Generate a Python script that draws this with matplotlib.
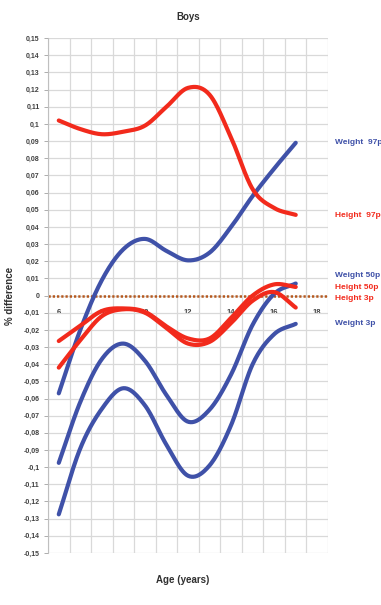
import matplotlib
matplotlib.use("Agg")
import matplotlib.pyplot as plt
import numpy as np

plt.rcParams["font.family"] = ["Liberation Sans Narrow", "Liberation Sans", "DejaVu Sans"]

ages = [6, 7, 8, 9, 10, 11, 12, 13, 14, 15, 16, 17]

weight_97 = [-0.057, -0.020, 0.009, 0.027, 0.033, 0.026, 0.0205, 0.025, 0.040, 0.058, 0.074, 0.089]
weight_50 = [-0.0975, -0.062, -0.037, -0.028, -0.038, -0.058, -0.0735, -0.0665, -0.046, -0.017, 0.001, 0.007]
weight_3 = [-0.1275, -0.089, -0.066, -0.054, -0.064, -0.087, -0.105, -0.099, -0.0755, -0.040, -0.0225, -0.0165]
height_97 = [0.102, 0.097, 0.094, 0.0955, 0.099, 0.110, 0.121, 0.117, 0.092, 0.062, 0.051, 0.047]
height_50 = [-0.0265, -0.0176, -0.009, -0.0075, -0.0095, -0.018, -0.025, -0.025, -0.013, 0.0, 0.0065, 0.005]
height_3 = [-0.042, -0.026, -0.012, -0.008, -0.010, -0.019, -0.028, -0.027, -0.016, -0.003, 0.002, -0.007]

series_names = ["Weight  97p", "Height  97p", "Weight 50p", "Height 50p", "Height 3p", "Weight 3p"]
series_data = [weight_97, height_97, weight_50, height_50, height_3, weight_3]
label_y = [0.089, 0.0465, 0.0115, 0.0045, -0.002, -0.0165]

BLUE = "#3F51A8"
RED = "#F22A1C"


def smooth(x, y, n=24):
    # Catmull-Rom, close to Excel's "smoothed line"
    x = np.asarray(x, float)
    y = np.asarray(y, float)
    px = np.concatenate([[2 * x[0] - x[1]], x, [2 * x[-1] - x[-2]]])
    py = np.concatenate([[2 * y[0] - y[1]], y, [2 * y[-1] - y[-2]]])
    xs, ys = [], []
    t = np.linspace(0, 1, n, endpoint=False)
    for i in range(1, len(px) - 2):
        for p, out in ((px, xs), (py, ys)):
            p0, p1, p2, p3 = p[i - 1], p[i], p[i + 1], p[i + 2]
            out.extend(0.5 * (2 * p1 + (-p0 + p2) * t
                              + (2 * p0 - 5 * p1 + 4 * p2 - p3) * t ** 2
                              + (-p0 + 3 * p1 - 3 * p2 + p3) * t ** 3))
    xs.append(x[-1])
    ys.append(y[-1])
    return np.array(xs), np.array(ys)


def main() -> None:
    fig = plt.figure(figsize=(3.81, 6.05), dpi=100)
    ax = fig.add_axes([0.126, 0.086, 0.735, 0.851])

    ax.set_xlim(5.5, 18.5)
    ax.set_ylim(-0.15, 0.15)

    yt = np.round(np.arange(-0.15, 0.151, 0.01), 2)
    ax.set_xticks(np.arange(5.5, 19, 1), minor=True)
    ax.set_yticks(yt)
    ax.set_yticklabels([("%g" % v).replace(".", ",") if abs(v) > 1e-9 else "0" for v in yt])
    ax.set_xticks([6, 8, 10, 12, 14, 16, 18])
    ax.grid(which="minor", axis="x", color="#D9D9D9", lw=0.9)
    ax.grid(which="major", axis="y", color="#D9D9D9", lw=0.9)
    ax.set_axisbelow(True)

    for s in ["top", "right"]:
        ax.spines[s].set_visible(False)
    ax.spines["left"].set_color("#BFBFBF")
    ax.spines["bottom"].set_position(("data", 0))
    ax.spines["bottom"].set_color("none")

    # dotted zero line acting as the category axis
    ax.axhline(0, color="#B5581E", lw=1.8, ls=(0, (0.9, 0.8)), zorder=2)

    ax.tick_params(axis="y", length=3, width=0.6, color="#A0A0A0", labelsize=5, pad=3)
    ax.tick_params(axis="x", which="major", length=0, labelsize=5.5, pad=10)
    ax.tick_params(axis="x", which="minor", length=0)
    for lab in ax.get_yticklabels() + ax.get_xticklabels():
        lab.set_fontweight("bold")
        lab.set_color("#404040")

    for name, vals in zip(series_names, series_data):
        color = BLUE if name.startswith("Weight") else RED
        xs, ys = smooth(ages, vals)
        ax.plot(xs, ys, color=color, lw=3.0, solid_capstyle="round", zorder=3)

    for name, yl in zip(series_names, label_y):
        color = BLUE if name.startswith("Weight") else RED
        ax.text(1.025, yl, name, transform=ax.get_yaxis_transform(), color=color,
                fontsize=6, fontweight="bold", va="center", ha="left")

    ax.set_title("Boys", fontsize=7, fontweight="bold", color="#303030", pad=13)
    ax.set_ylabel("% difference", fontsize=7, fontweight="bold", color="#303030", labelpad=6)
    fig.text(0.48, 0.036, "Age (years)", fontsize=7, fontweight="bold",
             color="#303030", ha="center")

    fig.savefig("out.png", dpi=100)


if __name__ == "__main__":
    main()
